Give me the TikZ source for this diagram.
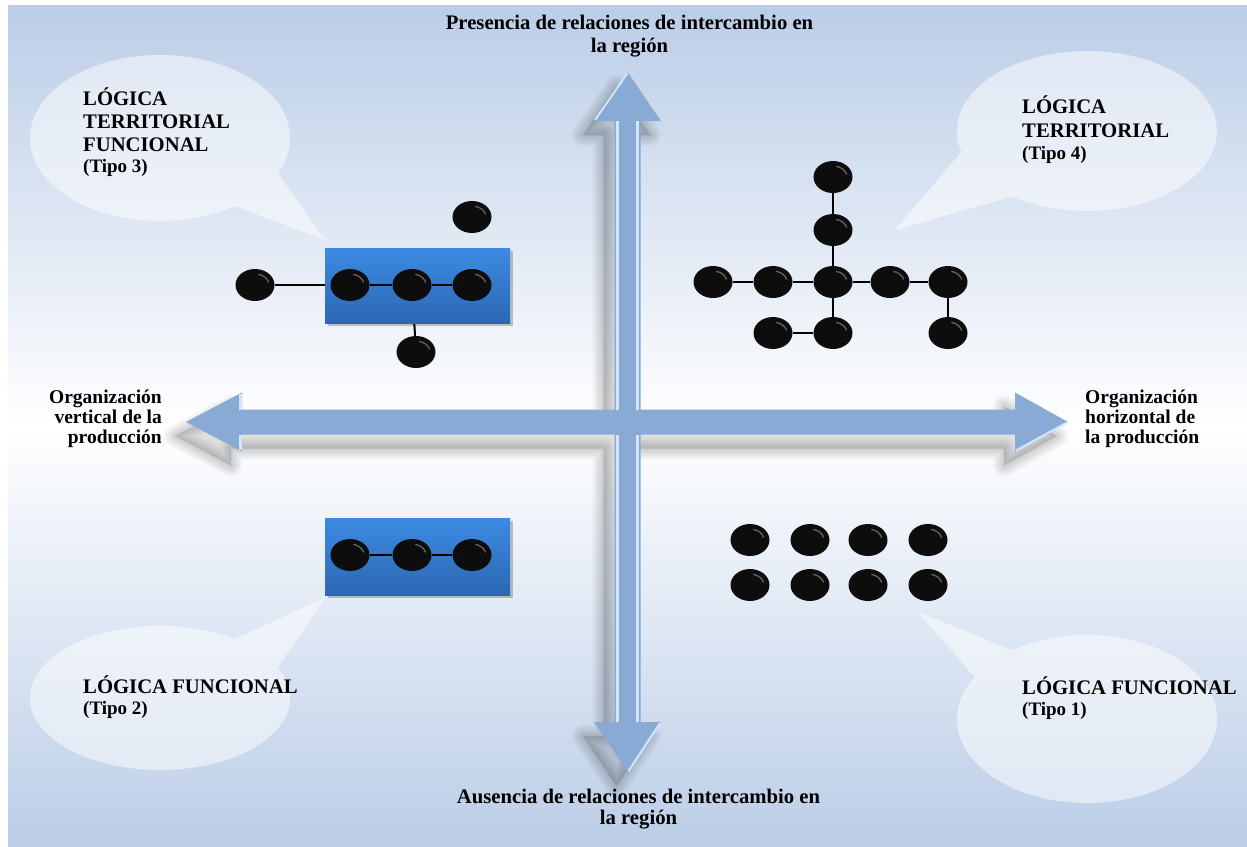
\documentclass[tikz,border=0pt]{standalone}
\usepackage{fontspec}
\setmainfont{Liberation Serif}
\usetikzlibrary{shapes.geometric}

\definecolor{bgblue}{HTML}{BBCDE7}
\definecolor{arrowblue}{HTML}{8AAAD6}
\definecolor{arrowlight}{HTML}{D2E5FB}
\definecolor{boxtop}{HTML}{3C8BE4}
\definecolor{boxbot}{HTML}{2C67B2}

\pgfdeclarelayer{back}
\pgfdeclarelayer{links}
\pgfdeclarelayer{panels}
\pgfdeclarelayer{toplinks}
\pgfsetlayers{back,links,panels,toplinks,main}

\tikzset{
  ball/.style={ellipse, fill=black!95, minimum width=39pt, minimum height=32pt, inner sep=0pt,
    path picture={\draw[white, opacity=.35, line width=1.3pt, line cap=round]
      (path picture bounding box.center) ++(-75:14 and 11)
      arc[start angle=-75, end angle=-15, x radius=14, y radius=11];}},
  edgeline/.style={line width=2pt, black},
  bubble/.style={fill=white, fill opacity=.5},
  qtitle/.style={font=\bfseries\fontsize{20.7}{23}\selectfont, inner sep=0pt},
  qtipo/.style={font=\bfseries\fontsize{19}{21}\selectfont, inner sep=0pt},
  axislabel/.style={font=\bfseries\fontsize{20.7}{23}\selectfont, inner sep=0pt},
  sidelabel/.style={font=\bfseries\fontsize{19.5}{20}\selectfont, inner sep=0pt},
  pnlbox/.style={rectangle, top color=boxtop, bottom color=boxbot, draw=none,
    minimum width=185pt, minimum height=75pt, inner sep=0pt, anchor=north west},
  axiscross/.pic={\path[pic actions]
    (186,422) -- (242,392.5) -- (242,409.5) -- (614.5,409.5) -- (614.5,121)
    -- (594,121) -- (627.5,72) -- (661,121) -- (640.5,121) -- (640.5,409.5)
    -- (1015,409.5) -- (1015,392.5) -- (1068,422) -- (1015,451.5) -- (1015,434.5)
    -- (640.5,434.5) -- (640.5,722) -- (661,722) -- (627.5,772) -- (594,722)
    -- (614.5,722) -- (614.5,434.5) -- (242,434.5) -- (242,451.5) -- cycle;},
}

\begin{document}
\begin{tikzpicture}[x=1pt,y=-1pt]
\useasboundingbox (0,0) rectangle (1247,846);

\begin{pgfonlayer}{back}
  % page background
  \fill[white] (0,0) rectangle (1247,846);
  \shade[top color=bgblue, bottom color=bgblue, middle color=white] (8,5) rectangle (1247,846);

  % speech bubbles with tails
  \fill[bubble] (160,138) ++(55:130 and 83)
    arc[start angle=55, end angle=385, x radius=130, y radius=83] -- (325,240) -- cycle;
  \fill[bubble] (1087,131) ++(165:130 and 80)
    arc[start angle=165, end angle=485, x radius=130, y radius=80] -- (895,230) -- cycle;
  \fill[bubble] (160,698) ++(-25:130 and 72)
    arc[start angle=-25, end angle=305, x radius=130, y radius=72] -- (325,598) -- cycle;
  \fill[bubble] (1087,719) ++(-125:130 and 84)
    arc[start angle=-125, end angle=210, x radius=130, y radius=84] -- (918,612) -- cycle;

  % soft shadow of the axes
  \foreach \w in {22,18,14,10,6,2}
    \pic[draw=black, draw opacity=.03, line width=\w pt, line join=round] at (-11,14) {axiscross};
  \pic[fill=black, fill opacity=.12] at (-11,14) {axiscross};

  % axes
  \pic[fill=arrowblue] {axiscross};
  \begin{scope}[arrowlight, line width=2.5pt]
    \draw (617.5,121) -- (617.5,409.5);
    \draw (637.5,121) -- (637.5,409.5);
    \draw (617.5,434.5) -- (617.5,722);
    \draw (637.5,434.5) -- (637.5,722);
    \draw[line width=2pt] (595,120) -- (627.5,73);
    \draw[line width=2pt] (660,723) -- (628.5,771);
    \draw (240.5,394) -- (240.5,409.5);
    \draw (240.5,434.5) -- (240.5,450);
    \draw[line width=2pt] (1016,450.5) -- (1067,422.5);
  \end{scope}
\end{pgfonlayer}

% panels
\begin{pgfonlayer}{panels}
  \fill[black, opacity=.22] (327.5,251) rectangle (512.5,326);
  \node[pnlbox] (panelA) at (325,248) {};
  \fill[black, opacity=.22] (327.5,521) rectangle (512.5,598);
  \node[pnlbox, minimum height=77pt] (panelB) at (325,518) {};
\end{pgfonlayer}

% Tipo 3
\node[ball] (a0) at (255,285) {};
\node[ball] (a1) at (350,285) {};
\node[ball] (a2) at (412,285) {};
\node[ball] (a3) at (472,285) {};
\node[ball] (a4) at (416,352) {};
\node[ball] (a5) at (472,217) {};

% Tipo 4
\node[ball] (b0) at (833,177) {};
\node[ball] (b1) at (833,230) {};
\node[ball] (b2) at (713,282) {};
\node[ball] (b3) at (773,282) {};
\node[ball] (b4) at (833,282) {};
\node[ball] (b5) at (890,282) {};
\node[ball] (b6) at (948,282) {};
\node[ball] (b7) at (773,333) {};
\node[ball] (b8) at (833,333) {};
\node[ball] (b9) at (948,333) {};

% Tipo 2
\node[ball] (c1) at (350,555) {};
\node[ball] (c2) at (412,555) {};
\node[ball] (c3) at (472,555) {};

% Tipo 1
\foreach \i/\xx in {1/750,2/810,3/868,4/928}{
  \node[ball] (d\i) at (\xx,540) {};
  \node[ball] (e\i) at (\xx,585) {};
}

\begin{pgfonlayer}{links}
  \draw[edgeline] (a0) -- (a1);
  \draw[edgeline] (a2) -- (a4);
  \draw[edgeline] (b0) -- (b1) -- (b4) -- (b8) -- (b7);
  \draw[edgeline] (b2) -- (b3) -- (b4) -- (b5) -- (b6) -- (b9);
\end{pgfonlayer}
\begin{pgfonlayer}{toplinks}
  \draw[edgeline] (a1) -- (a2) -- (a3);
  \draw[edgeline] (c1) -- (c2) -- (c3);
\end{pgfonlayer}

% axis labels
\node[axislabel, anchor=base] (pres1) at (629.5,29) {Presencia de relaciones de intercambio en};
\node[axislabel, anchor=base] (pres2) at (629.5,52) {la región};
\node[axislabel, anchor=base] (aus1) at (638.5,803) {Ausencia de relaciones de intercambio en};
\node[axislabel, anchor=base] (aus2) at (638.5,824) {la región};

\node[sidelabel, anchor=base east] (vert1) at (162,403) {Organización};
\node[sidelabel, anchor=base east] (vert2) at (162,423) {vertical de la};
\node[sidelabel, anchor=base east] (vert3) at (162,443) {producción};
\node[sidelabel, anchor=base west] (hor1) at (1085,403) {Organización};
\node[sidelabel, anchor=base west] (hor2) at (1085,423) {horizontal de};
\node[sidelabel, anchor=base west] (hor3) at (1085,443) {la producción};

% quadrant titles
\node[qtitle, anchor=base west] (t3a) at (83,105) {LÓGICA};
\node[qtitle, anchor=base west] (t3b) at (83,128) {TERRITORIAL};
\node[qtitle, anchor=base west] (t3c) at (83,151) {FUNCIONAL};
\node[qtipo, anchor=base west] (t3d) at (83,172) {(Tipo 3)};

\node[qtitle, anchor=base west] (t4a) at (1022,113) {LÓGICA};
\node[qtitle, anchor=base west] (t4b) at (1022,137) {TERRITORIAL};
\node[qtipo, anchor=base west] (t4c) at (1022,159) {(Tipo 4)};

\node[qtitle, anchor=base west] (t2a) at (83,693) {LÓGICA FUNCIONAL};
\node[qtipo, anchor=base west] (t2b) at (83,714) {(Tipo 2)};

\node[qtitle, anchor=base west] (t1a) at (1022,694) {LÓGICA FUNCIONAL};
\node[qtipo, anchor=base west] (t1b) at (1022,715) {(Tipo 1)};
\end{tikzpicture}
\end{document}
